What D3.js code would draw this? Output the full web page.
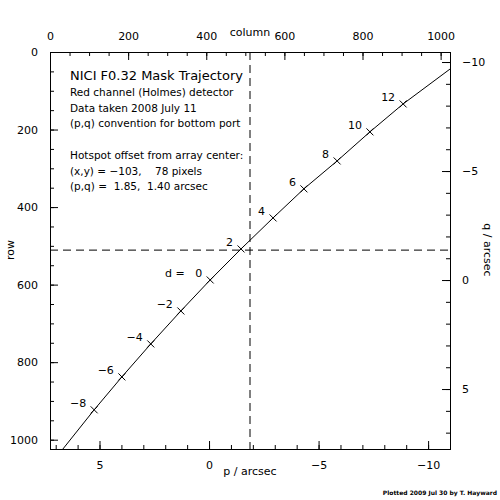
<!DOCTYPE html>
<html><head><meta charset="utf-8">
<script src="https://cdn.jsdelivr.net/npm/d3@7"></script>
<style>body{margin:0;background:#fff}text{font-family:"DejaVu Sans",sans-serif;fill:#000;white-space:pre}</style>
</head><body><svg id="c" width="500" height="500"></svg>
<script>
// trajectory marks (detector column,row) at mask position d
var dVals = [-8, -6, -4, -2, 0, 2, 4, 6, 8, 10, 12]
var colVals = [113, 184, 258, 335, 410, 489, 571, 650, 735, 819, 904]
var rowVals = [923, 838, 753, 668, 588, 508, 428, 353, 281, 206, 134]
// curve ends at the frame edges
var curveCol = [33].concat(colVals, [1024])
var curveRow = [1024].concat(rowVals, [44])
var hotCol = 512, hotRow = 511
var colTicks = [0, 200, 400, 600, 800, 1000]
var rowTicks = [0, 200, 400, 600, 800, 1000]
var pTicks = [5, 0, -5, -10]
var qTicks = [-10, -5, 0, 5]
var notes = ["Red channel (Holmes) detector", "Data taken 2008 July 11", "(p,q) convention for bottom port",
  "", "Hotspot offset from array center:", "(x,y) = \u2212103,    78 pixels", "(p,q) =  1.85,  1.40 arcsec"]

var L = 50, R = 450, T = 52, B = 449
var svg = d3.select('#c')
var x = d3.scaleLinear().domain([0, 1024]).range([L, R])
var y = d3.scaleLinear().domain([0, 1024]).range([T, B])
var p = d3.scaleLinear().domain([7.26, -11.0]).range([L, R])
var q = d3.scaleLinear().domain([-10.46, 7.75]).range([T, B])

function ax(gen, scale, major, minor, tr, fmt) {
  var g = svg.append('g').attr('transform', tr)
  g.call(gen(scale).tickValues(minor).tickSize(-4).tickFormat(''))
  var m = g.append('g').call(gen(scale).tickValues(major).tickSize(-8).tickPadding(12).tickFormat(fmt))
  g.selectAll('.domain').attr('stroke', '#000')
  g.selectAll('line').attr('stroke', '#000')
  m.selectAll('text').style('font-size', '11px')
  return g
}
var neg = function (v) { return String(v).replace('-', '\u2212') }
ax(d3.axisTop, x, colTicks, d3.range(0, 1025, 50), 'translate(0,' + T + ')', d3.format('d'))
ax(d3.axisLeft, y, rowTicks, d3.range(0, 1025, 50), 'translate(' + L + ',0)', d3.format('d'))
ax(d3.axisBottom, p, pTicks, d3.range(-11, 8, 1), 'translate(0,' + B + ')', neg)
ax(d3.axisRight, q, qTicks, d3.range(-10, 8, 1), 'translate(' + R + ',0)', neg)

// hotspot crosshair
svg.append('line').attr('x1', x(hotCol)).attr('x2', x(hotCol)).attr('y1', T).attr('y2', B)
  .attr('stroke', '#000').attr('stroke-dasharray', '8,5')
svg.append('line').attr('x1', L).attr('x2', R).attr('y1', y(hotRow)).attr('y2', y(hotRow))
  .attr('stroke', '#000').attr('stroke-dasharray', '8,5')

var line = d3.line().x(function (d, i) { return x(curveCol[i]) }).y(function (d, i) { return y(curveRow[i]) })
svg.append('path').datum(curveCol).attr('d', line).attr('fill', 'none').attr('stroke', '#000').attr('stroke-width', 1)

var mk = svg.selectAll('.mk').data(dVals).enter().append('g')
  .attr('transform', function (d, i) { return 'translate(' + x(colVals[i]) + ',' + y(rowVals[i]) + ')' })
mk.append('path').attr('d', 'M-3.5,-3.5L3.5,3.5M-3.5,3.5L3.5,-3.5').attr('stroke', '#000')
mk.append('text').attr('x', -8).attr('y', -3).attr('text-anchor', 'end').style('font-size', '11px')
  .text(function (d) { return d === 0 ? 'd =   0' : neg(d) })

svg.append('text').attr('x', 70).attr('y', 80).style('font-size', '13px').text('NICI F0.32 Mask Trajectory')
svg.selectAll('.nt').data(notes).enter().append('text').attr('x', 70)
  .attr('y', function (d, i) { return 96 + i * 15.7 }).style('font-size', '10.5px').text(function (d) { return d })

svg.append('text').attr('x', 250).attr('y', 36).attr('text-anchor', 'middle').style('font-size', '11px').text('column')
svg.append('text').attr('x', 250).attr('y', 475).attr('text-anchor', 'middle').style('font-size', '11px').text('p / arcsec')
svg.append('text').attr('transform', 'translate(14,250) rotate(-90)').attr('text-anchor', 'middle').style('font-size', '11px').text('row')
svg.append('text').attr('transform', 'translate(484,250) rotate(90)').attr('text-anchor', 'middle').style('font-size', '11px').text('q / arcsec')
svg.append('text').attr('x', 497).attr('y', 495).attr('text-anchor', 'end').style('font-size', '6px').style('font-weight', 'bold')
  .text('Plotted 2009 Jul 30 by T. Hayward')
</script></body></html>
